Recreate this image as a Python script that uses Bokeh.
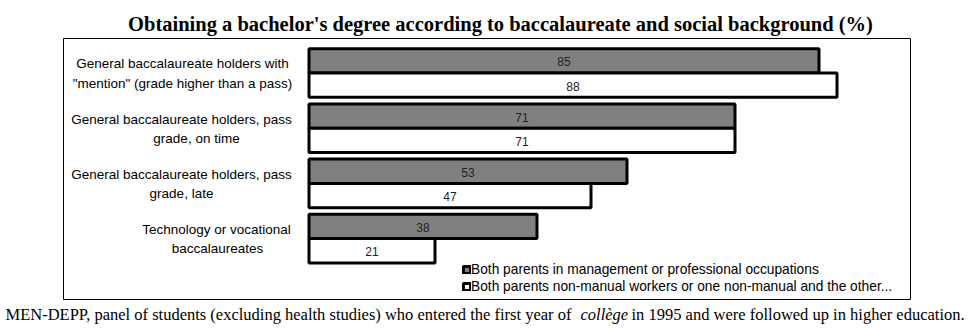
from bokeh.plotting import figure
from bokeh.models import Range1d, ColumnDataSource, Label, Legend, LegendItem, BoxAnnotation
from bokeh.core.properties import value
from bokeh.embed import file_html
from bokeh.resources import INLINE

# ---- data ----
categories = [
    "General baccalaureate holders with \"mention\" (grade higher than a pass)",
    "General baccalaureate holders, pass grade, on time",
    "General baccalaureate holders, pass grade, late",
    "Technology or vocational baccalaureates",
]
label_line1 = ["General baccalaureate holders with", "General baccalaureate holders, pass",
               "General baccalaureate holders, pass", "Technology or vocational"]
label_line2 = ["\"mention\" (grade higher than a pass)", "grade, on time",
               "grade, late", "baccalaureates"]
managers = [85, 71, 53, 38]
non_manual = [88, 71, 47, 21]
series_names = ["Both parents in management or professional occupations",
                "Both parents non-manual workers or one non-manual and the other..."]
title_text = "Obtaining a bachelor's degree according to baccalaureate and social background (%)"
source_a = "MEN-DEPP, panel of students (excluding health studies) who entered the first year of "
source_b = "collège"
source_c = "in 1995 and were followed up in higher education."

# ---- layout (pixels) ----
W, H = 972, 328
FL, FR, FT, FB = 63, 910, 38, 299      # chart box
X0PX, XSCALE = 308.5, 6.0              # px of value 0, px per unit
Y0PX, YSCALE = 72.5, 55.2              # px of first group centre, px per group

def px2x(px):
    return (px - X0PX) / XSCALE

def px2y(py):
    return (py - Y0PX) / YSCALE

p = figure(width=W, height=H, output_backend="svg", toolbar_location=None,
           x_range=Range1d(px2x(0), px2x(W)),
           y_range=Range1d(px2y(H), px2y(0)),
           min_border_left=0, min_border_right=0,
           min_border_top=0, min_border_bottom=0)
p.axis.visible = False
p.grid.visible = False
p.outline_line_color = None
p.background_fill_color = "white"
p.border_fill_color = "white"

# chart box
p.add_layout(BoxAnnotation(left=px2x(FL), right=px2x(FR), top=px2y(FT), bottom=px2y(FB),
                           fill_alpha=0, line_color="black", line_width=1, line_alpha=1))

# title
p.add_layout(Label(x=px2x(500), y=px2y(23.5), text=title_text, text_align="center",
                   text_baseline="alphabetic", text_font="Liberation Serif",
                   text_font_size="20.5px", text_font_style="bold", text_color="black"))

idx = list(range(len(categories)))
OFF, BH = 0.22, 0.44
src = ColumnDataSource(dict(
    ya=[i - OFF for i in idx], yb=[i + OFF for i in idx],
    a=managers, b=non_manual,
    am=[v / 2 for v in managers], bm=[v / 2 for v in non_manual],
    at=[str(v) for v in managers], bt=[str(v) for v in non_manual],
))
ra = p.hbar(y="ya", right="a", left=0, height=BH, source=src,
            fill_color="#808080", line_color="black", line_width=3)
rb = p.hbar(y="yb", right="b", left=0, height=BH, source=src,
            fill_color="white", line_color="black", line_width=3)

for ycol, xcol, tcol in (("ya", "am", "at"), ("yb", "bm", "bt")):
    p.text(x=xcol, y=ycol, text=tcol, source=src, text_align="center",
           text_baseline="middle", text_font=value("Liberation Sans"),
           text_font_size="12px", text_color="#222222", y_offset=1)

# category labels (two lines, centred)
line1_cx = [182, 181, 181, 216]
line2_cx = [182, 196, 181, 217]
lab = ColumnDataSource(dict(
    x1=[px2x(c) for c in line1_cx], x2=[px2x(c) for c in line2_cx],
    y1=[i - 0.165 for i in idx], y2=[i + 0.185 for i in idx],
    t1=label_line1, t2=label_line2))
for xc, yc, tc in (("x1", "y1", "t1"), ("x2", "y2", "t2")):
    p.text(x=xc, y=yc, text=tc, source=lab, text_align="center",
           text_baseline="middle", text_font=value("Liberation Sans"),
           text_font_size="13.5px", text_color="black")

# legend
legend = Legend(items=[LegendItem(label=series_names[0], renderers=[ra]),
                       LegendItem(label=series_names[1], renderers=[rb])],
                location=(462, H - 294), glyph_width=9, glyph_height=9,
                label_standoff=0, label_height=15, spacing=2, padding=0, margin=0,
                label_text_font="Liberation Sans", label_text_font_size="13.75px",
                label_text_color="black",
                border_line_alpha=0, background_fill_alpha=0)
p.add_layout(legend)

# source note below the box
fy = px2y(313.5)
for txt, xpx, style in ((source_a, 5, "normal"), (source_b, 580, "italic"), (source_c, 631, "normal")):
    p.add_layout(Label(x=px2x(xpx), y=fy, text=txt, text_font="Liberation Serif",
                       text_font_size="16.5px", text_font_style=style,
                       text_baseline="alphabetic", text_color="black"))

open("out.html", "w").write(file_html(p, INLINE))
